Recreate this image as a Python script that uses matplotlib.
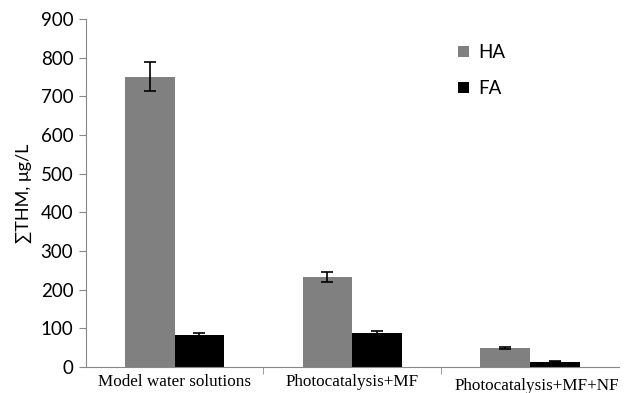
import numpy as np
import matplotlib.pyplot as plt
from matplotlib.transforms import ScaledTranslation

categories = ['Model water solutions', 'Photocatalysis+MF', 'Photocatalysis+MF+NF']
ha_values = [751, 233, 50]
ha_err = [37, 12, 3]
fa_values = [84, 88, 14]
fa_err = [5, 6, 2]
y_ticks = [0, 100, 200, 300, 400, 500, 600, 700, 800, 900]


def plot_values():
    fig = plt.figure(figsize=(6.4, 3.93), dpi=100)
    ax = fig.add_axes([0.134, 0.066, 0.833, 0.886])

    x = np.arange(len(categories))
    w = 0.28
    ax.bar(x - w / 2, ha_values, w, color='#808080', label='HA',
           yerr=ha_err, capsize=4, error_kw=dict(elinewidth=1.2, capthick=1.2, ecolor='black'))
    ax.bar(x + w / 2, fa_values, w, color='black', label='FA',
           yerr=fa_err, capsize=4, error_kw=dict(elinewidth=1.2, capthick=1.2, ecolor='black'))

    ax.set_xlim(-0.5, len(categories) - 0.5)
    ax.set_ylim(0, 900)
    ax.set_yticks(y_ticks)

    ax.set_xticks(x)
    ax.set_xticklabels(categories, fontfamily='Liberation Serif', fontsize=12.3)
    ax.set_xticks(np.arange(0.5, len(categories) - 0.5, 1), minor=True)
    ax.tick_params(axis='x', which='major', length=0, pad=5)
    ax.tick_params(axis='x', which='minor', length=5, color='#888888', direction='out')
    ax.tick_params(axis='y', length=5, color='#888888', labelsize=13.5, pad=4)
    for lab in ax.get_yticklabels():
        lab.set_fontfamily('Lato')

    # last label sits a bit lower and pushed to the right edge
    lab = ax.get_xticklabels()[2]
    lab.set_transform(lab.get_transform() + ScaledTranslation(0.07, -0.04, fig.dpi_scale_trans))

    for s in ['top', 'right']:
        ax.spines[s].set_visible(False)
    for s in ['left', 'bottom']:
        ax.spines[s].set_color('#888888')

    ax.set_ylabel('\u2211THM, \u03bcg/L', fontsize=13, fontfamily='Lato', labelpad=6)

    ax.legend(loc='upper left', bbox_to_anchor=(0.69, 0.93), bbox_transform=fig.transFigure,
              frameon=False, prop={'family': 'Lato', 'size': 13.5},
              handlelength=0.55, handleheight=0.55, handletextpad=0.5, labelspacing=1.0)

    fig.savefig('out.png', dpi=100)


def main():
    plot_values()


if __name__ == '__main__':
    main()
